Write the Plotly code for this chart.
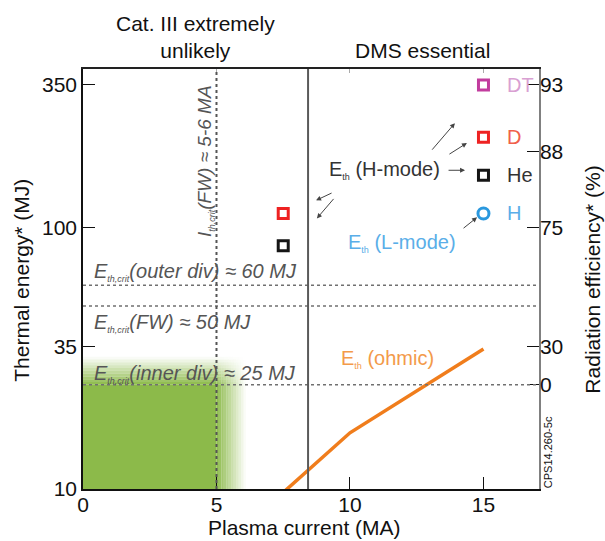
import numpy as np
import plotly.graph_objects as go

# ---------------- data ----------------
current_DT = [15]
energy_DT = [350]
current_D = [7.5, 15]
energy_D = [113, 221]
current_He = [7.5, 15]
energy_He = [85, 158]
current_H = [15]
energy_H = [113]
ohmic_current = [7.5, 10, 15]
ohmic_energy = [9.7, 16.4, 34.3]

crit_energy = [60, 50, 25]          # MJ, critical thermal energies
crit_labels = ["(outer div) ≈ 60 MJ", "(FW) ≈ 50 MJ", "(inner div) ≈ 25 MJ"]
crit_current = 5                    # MA, I_th,crit(FW)
dms_current = 8.43                  # MA, DMS essential boundary

x_ticks = [0, 5, 10, 15]
y_ticks = [10, 35, 100, 350]
eff_tickvals = [25, 35, 100, 195, 350]
eff_ticktext = ["0", "30", "75", "88", "93"]

XR = [0, 17.08]
YR = [1.0, 2.605]
FONT = "Liberation Sans, Arial, sans-serif"
GREEN = "#8cba4a"

fig = go.Figure()

# ---------------- traces ----------------
fig.add_trace(go.Scatter(x=ohmic_current, y=ohmic_energy, mode="lines",
                         line=dict(color="#f07d1c", width=3.5), showlegend=False,
                         hoverinfo="skip"))
fig.add_trace(go.Scatter(x=current_DT, y=energy_DT, mode="markers", showlegend=False,
                         marker=dict(symbol="square-open", size=10, color="#c23c9e",
                                     line=dict(width=3, color="#c23c9e"))))
fig.add_trace(go.Scatter(x=current_D, y=energy_D, mode="markers", showlegend=False,
                         marker=dict(symbol="square-open", size=10, color="#ee2222",
                                     line=dict(width=3, color="#ee2222"))))
fig.add_trace(go.Scatter(x=current_He, y=energy_He, mode="markers", showlegend=False,
                         marker=dict(symbol="square-open", size=10, color="#151515",
                                     line=dict(width=3, color="#151515"))))
fig.add_trace(go.Scatter(x=current_H, y=energy_H, mode="markers", showlegend=False,
                         marker=dict(symbol="circle-open", size=11, color="#2a98de",
                                     line=dict(width=3, color="#2a98de"))))
# dummy traces for the secondary axes
fig.add_trace(go.Scatter(x=[None], y=[None], yaxis="y2", showlegend=False))
fig.add_trace(go.Scatter(x=[None], y=[None], xaxis="x2", showlegend=False))

# ---------------- shapes ----------------
shapes = []
# green region with soft edges
fx_edge, fx_w, nx = 5.0, 1.1, 12
fy_edge, fy_top, ny = 25.0, 32.0, 10
shapes.append(dict(type="rect", xref="x", yref="y", x0=0, x1=fx_edge, y0=10, y1=fy_edge,
                   fillcolor=GREEN, line=dict(width=0), layer="below"))
ry = (fy_top / fy_edge) ** (1.0 / ny)
for i in range(nx):
    ox = 1 - (i + 0.5) / nx
    x0 = fx_edge + i * fx_w / nx
    x1 = fx_edge + (i + 1) * fx_w / nx
    shapes.append(dict(type="rect", xref="x", yref="y", x0=x0, x1=x1, y0=10, y1=fy_edge,
                       fillcolor=GREEN, opacity=ox, line=dict(width=0), layer="below"))
for j in range(ny):
    oy = 1 - (j + 0.5) / ny
    y0 = fy_edge * ry ** j
    y1 = fy_edge * ry ** (j + 1)
    shapes.append(dict(type="rect", xref="x", yref="y", x0=0, x1=fx_edge, y0=y0, y1=y1,
                       fillcolor=GREEN, opacity=oy, line=dict(width=0), layer="below"))
    for i in range(nx):
        ox = 1 - (i + 0.5) / nx
        x0 = fx_edge + i * fx_w / nx
        x1 = fx_edge + (i + 1) * fx_w / nx
        shapes.append(dict(type="rect", xref="x", yref="y", x0=x0, x1=x1, y0=y0, y1=y1,
                           fillcolor=GREEN, opacity=ox * oy, line=dict(width=0), layer="below"))

for e in crit_energy:
    shapes.append(dict(type="line", xref="paper", yref="y", x0=0, x1=1, y0=e, y1=e,
                       line=dict(color="#707070", width=1.5, dash="dot")))
shapes.append(dict(type="line", xref="x", yref="paper", x0=crit_current, x1=crit_current,
                   y0=0, y1=1, line=dict(color="#555555", width=2, dash="dot")))
shapes.append(dict(type="line", xref="x", yref="paper", x0=dms_current, x1=dms_current,
                   y0=0, y1=1, line=dict(color="#5a5a5a", width=2)))

# ---------------- annotations ----------------
L = np.log10
ann = []
sub = lambda s, px: f"<sub><span style='font-size:{px}px'>{s}</span></sub>"
C = dict(xanchor="center", yanchor="middle", showarrow=False)

# header texts
ann.append(dict(text="Cat. III extremely<br>unlikely", xref="x", yref="paper", x=4.2, y=1.076,
                font=dict(size=21, color="#111"), **C))
ann.append(dict(text="DMS essential", xref="x", yref="paper", x=12.7, y=1.045,
                font=dict(size=21, color="#111"), **C))

# axis titles
ann.append(dict(text="Plasma current (MA)", xref="x", yref="paper", x=8.31, y=-0.092,
                font=dict(size=21, color="#111"), **C))
ann.append(dict(text="Thermal energy* (MJ)", xref="paper", yref="paper", x=-0.134, y=0.498,
                textangle=-90, font=dict(size=21, color="#111"), **C))
ann.append(dict(text="Radiation efficiency* (%)", xref="paper", yref="paper", x=1.118, y=0.498,
                textangle=-90, font=dict(size=21, color="#111"), **C))
ann.append(dict(text="CPS14.260-5c", xref="paper", yref="paper", x=1.02, y=0.088,
                textangle=-90, font=dict(size=11, color="#111"), **C))

# critical lines labels
crit_label_y = [1.828, 1.636, 1.441]
for lab, yy in zip(crit_labels, crit_label_y):
    ann.append(dict(text=f"<i>E{sub('th,crit', 9)}{lab}</i>", xref="x", yref="y",
                    x=0.34, y=yy, xanchor="left", yanchor="middle", showarrow=False,
                    font=dict(size=20, color="#555")))
ann.append(dict(text=f"<i>I{sub('th,crit', 9)}(FW) ≈ 5-6 MA</i>", xref="x", yref="y",
                x=4.57, y=2.253, textangle=-90, font=dict(size=19, color="#555"), **C))

# series labels
ann.append(dict(text=f"E{sub('th', 9)} (H-mode)", xref="x", yref="y", x=11.31, y=2.218,
                font=dict(size=20, color="#333"), **C))
ann.append(dict(text=f"E{sub('th', 9)} (L-mode)", xref="x", yref="y", x=11.95, y=1.939,
                font=dict(size=20, color="#5aaee8"), **C))
ann.append(dict(text=f"E{sub('th', 9)} (ohmic)", xref="x", yref="y", x=11.42, y=1.498,
                font=dict(size=20, color="#f39a4a"), **C))
for txt, e, col in [("DT", energy_DT[-1], "#d9a0d2"), ("D", energy_D[-1], "#f0604a"),
                    ("He", energy_He[-1], "#333"), ("H", energy_H[-1], "#5aaee8")]:
    ann.append(dict(text=txt, xref="x", yref="y", x=15.8, y=L(e), xanchor="left",
                    yanchor="middle", showarrow=False, font=dict(size=20, color=col)))

# arrows (head position in data, tail offset in px)
arrows = [(13.93, 2.398, -24, 28), (14.38, 2.322, -19, 12), (14.31, 2.218, -18, 0),
          (8.73, 2.103, 17, -8), (8.76, 2.034, 18, -21), (14.76, 2.038, -15, 12)]
for hx, hy, ax_, ay_ in arrows:
    ann.append(dict(text="", xref="x", yref="y", x=hx, y=hy, ax=ax_, ay=ay_,
                    showarrow=True, arrowhead=2, arrowsize=1, arrowwidth=1,
                    arrowcolor="#444"))

fig.update_layout(
    width=605, height=541,
    margin=dict(l=83, r=66, t=69, b=52),
    plot_bgcolor="white", paper_bgcolor="white",
    font=dict(family=FONT, size=21, color="#111"),
    shapes=shapes, annotations=ann, showlegend=False,
    xaxis=dict(range=XR, tickvals=x_ticks, ticks="inside", ticklen=12, tickwidth=1.2,
               tickcolor="#111", showgrid=False, zeroline=False, showline=True,
               linecolor="#111", linewidth=1.5, tickfont=dict(size=21),
               ticklabelstandoff=-4),
    xaxis2=dict(range=XR, overlaying="x", side="top", tickvals=x_ticks, ticks="inside",
                ticklen=4, tickcolor="#aaa", showticklabels=False, showgrid=False,
                zeroline=False, showline=True, linecolor="#222", linewidth=1.5),
    yaxis=dict(type="log", range=YR, tickvals=y_ticks, ticktext=[str(v) for v in y_ticks],
               ticks="inside", ticklen=12, tickwidth=1.2, tickcolor="#111",
               showgrid=False, zeroline=False, showline=True, linecolor="#111",
               linewidth=1.5, tickfont=dict(size=21)),
    yaxis2=dict(type="log", range=YR, overlaying="y", side="right",
                tickvals=eff_tickvals, ticktext=eff_ticktext, ticks="inside",
                ticklen=12, tickwidth=1.2, tickcolor="#111", showgrid=False,
                zeroline=False, showline=True, linecolor="#808080", linewidth=1.5,
                tickfont=dict(size=21), ticklabelstandoff=-5),
)

fig.write_html("out.html")
